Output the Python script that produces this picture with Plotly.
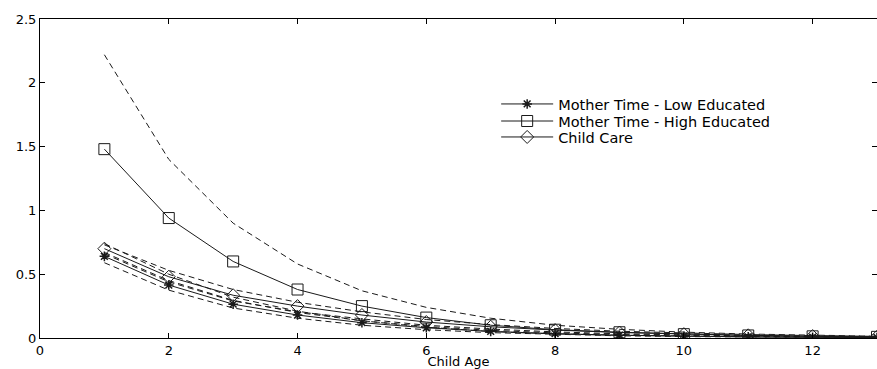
import plotly.graph_objects as go

ages = [1, 2, 3, 4, 5, 6, 7, 8, 9, 10, 11, 12, 13]

low_educated = [0.64, 0.415, 0.265, 0.18, 0.12, 0.08, 0.052, 0.034, 0.022, 0.014, 0.009, 0.006, 0.004]
low_upper = [0.67, 0.45, 0.295, 0.20, 0.135, 0.09, 0.06, 0.04, 0.027, 0.018, 0.012, 0.008, 0.005]
low_lower = [0.59, 0.375, 0.235, 0.155, 0.10, 0.065, 0.042, 0.027, 0.017, 0.011, 0.007, 0.005, 0.003]

high_educated = [1.48, 0.94, 0.60, 0.38, 0.25, 0.16, 0.10, 0.065, 0.045, 0.03, 0.02, 0.013, 0.009]
high_upper = [2.22, 1.40, 0.90, 0.58, 0.37, 0.24, 0.155, 0.10, 0.068, 0.046, 0.031, 0.021, 0.014]
high_lower = [0.74, 0.50, 0.32, 0.21, 0.135, 0.085, 0.05, 0.032, 0.021, 0.014, 0.009, 0.006, 0.004]

child_care = [0.70, 0.48, 0.335, 0.25, 0.18, 0.125, 0.088, 0.062, 0.043, 0.03, 0.021, 0.015, 0.01]
cc_upper = [0.73, 0.53, 0.38, 0.28, 0.205, 0.145, 0.105, 0.075, 0.053, 0.038, 0.027, 0.019, 0.013]
cc_lower = [0.66, 0.44, 0.29, 0.205, 0.15, 0.10, 0.07, 0.048, 0.033, 0.023, 0.016, 0.011, 0.007]

series_names = ["Mother Time - Low Educated", "Mother Time - High Educated", "Child Care"]
x_ticks = [0, 2, 4, 6, 8, 10, 12]
y_ticks = [0, 0.5, 1, 1.5, 2, 2.5]
y_tick_labels = ["0", "0.5", "1", "1.5", "2", "2.5"]

fig = go.Figure()

line_col = "#1a1a1a"
dash_style = "6px,4px"
font_family = "DejaVu Sans, Verdana, sans-serif"

for band in [high_upper, high_lower, cc_upper, cc_lower, low_upper, low_lower]:
    fig.add_trace(go.Scatter(
        x=ages, y=band, mode="lines", showlegend=False, hoverinfo="skip",
        line=dict(color=line_col, width=1, dash=dash_style),
    ))

fig.add_trace(go.Scatter(
    x=ages, y=low_educated, mode="lines+markers", name=series_names[0], legend="legend",
    line=dict(color=line_col, width=1),
    marker=dict(symbol="asterisk", size=8, color=line_col, line=dict(color=line_col, width=1.5)),
))
fig.add_trace(go.Scatter(
    x=ages, y=high_educated, mode="lines+markers", name=series_names[1], legend="legend2",
    line=dict(color=line_col, width=1),
    marker=dict(symbol="square-open", size=11, color=line_col, line=dict(color=line_col, width=1)),
))
fig.add_trace(go.Scatter(
    x=ages, y=child_care, mode="lines+markers", name=series_names[2], legend="legend3",
    line=dict(color=line_col, width=1),
    marker=dict(symbol="diamond-open", size=10, color=line_col, line=dict(color=line_col, width=1)),
))

axis_common = dict(
    showgrid=False, zeroline=False, showline=True, linecolor="black", linewidth=1,
    mirror="ticks", ticks="inside", ticklen=5, tickcolor="black",
    tickfont=dict(family=font_family, size=13, color="black"),
)

legend_common = dict(xanchor="left", yanchor="middle", bgcolor="rgba(255,255,255,0)",
                     borderwidth=0, font=dict(size=14.5), itemwidth=52)

fig.update_layout(
    width=877, height=369,
    margin=dict(l=40, r=0, t=19, b=31, autoexpand=False),
    paper_bgcolor="white", plot_bgcolor="white",
    font=dict(family=font_family, size=12, color="black"),
    xaxis=dict(range=[0, 13], tickvals=x_ticks,
               title=dict(text="Child Age", standoff=0, font=dict(size=13)),
               automargin=False, **axis_common),
    yaxis=dict(range=[0, 2.5], tickvals=y_ticks, ticktext=y_tick_labels,
               automargin=False, **axis_common),
    legend=dict(x=0.545, y=0.7335, **legend_common),
    legend2=dict(x=0.545, y=0.680, **legend_common),
    legend3=dict(x=0.545, y=0.630, **legend_common),
    showlegend=True,
)

fig.write_html(
    "out.html",
    config={"displayModeBar": False},
    post_script="document.body.style.margin='0';document.body.style.overflow='hidden';",
)
